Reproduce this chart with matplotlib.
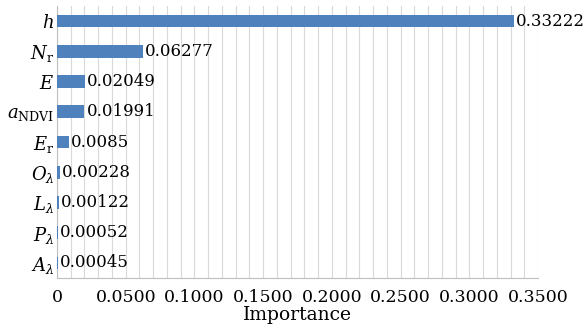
import numpy as np
import matplotlib
matplotlib.use('Agg')
import matplotlib.pyplot as plt
from matplotlib.ticker import MultipleLocator, FuncFormatter

# feature importances, top to bottom
features = [r'$h$', r'$N_\mathrm{r}$', r'$E$', r'$a_\mathrm{NDVI}$', r'$E_\mathrm{r}$',
            r'$O_\lambda$', r'$L_\lambda$', r'$P_\lambda$', r'$A_\lambda$']
importance = [0.33222, 0.06277, 0.02049, 0.01991, 0.0085,
              0.00228, 0.00122, 0.00052, 0.00045]

plt.rcParams['font.family'] = 'DejaVu Serif'
plt.rcParams['mathtext.fontset'] = 'dejavuserif'

fig = plt.figure(figsize=(5.85, 3.26), dpi=100)
ax = fig.add_axes([57 / 585, 1 - 278 / 326, 481 / 585, 272 / 326])

ypos = np.arange(len(features))
ax.barh(ypos, importance, height=0.42, color='#4f81bd', zorder=3)
for y, v in zip(ypos, importance):
    ax.text(v + 0.0015, y, str(v), va='center', ha='left', fontsize=12)

ax.set_ylim(len(features) - 0.5, -0.5)
ax.set_yticks(ypos)
ax.set_yticklabels(features, fontsize=13)
ax.set_xlim(0, 0.35)
ax.xaxis.set_major_locator(MultipleLocator(0.05))
ax.xaxis.set_minor_locator(MultipleLocator(0.01))
ax.xaxis.set_major_formatter(FuncFormatter(lambda x, p: '0' if x == 0 else '%.4f' % x))
ax.tick_params(axis='x', labelsize=12.5, length=0, pad=8)
ax.tick_params(axis='x', which='minor', length=0)
ax.tick_params(axis='y', length=0, pad=2)
ax.grid(axis='x', which='both', color='#d9d9d9', linewidth=0.8, zorder=0)
for s in ['top', 'right']:
    ax.spines[s].set_visible(False)
for s in ['left', 'bottom']:
    ax.spines[s].set_color('#bfbfbf')
ax.set_xlabel('Importance', fontsize=13.5, labelpad=0)

fig.savefig('out.png', dpi=100)
